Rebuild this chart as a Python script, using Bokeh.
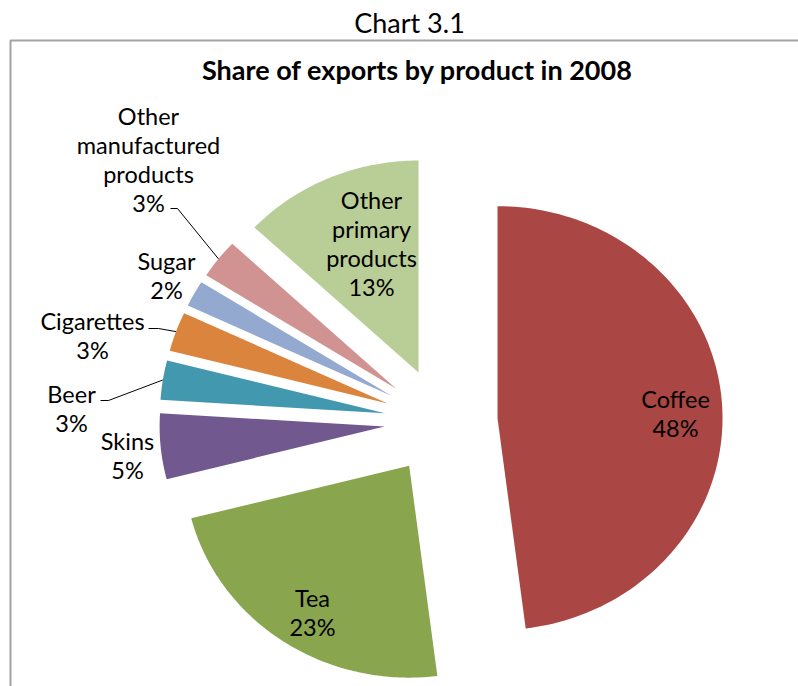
import numpy as np
from bokeh.plotting import figure
from bokeh.models import Range1d, ColumnDataSource
from bokeh.core.properties import value
from bokeh.embed import file_html
from bokeh.resources import INLINE

# ---------------- data ----------------
categories = ["Coffee", "Tea", "Skins", "Beer", "Cigarettes", "Sugar",
              "Other manufactured products", "Other primary products"]
shares = [48, 23, 5, 3, 3, 2, 3, 13]
label_names = ["Coffee", "Tea", "Skins", "Beer", "Cigarettes", "Sugar",
               "Other\nmanufactured\nproducts", "Other\nprimary\nproducts"]
colors = ["#AA4643", "#89A54E", "#71588F", "#4198AF", "#DB843D",
          "#93A9CF", "#D19392", "#B9CD96"]
chart_caption = "Chart 3.1"
chart_title = "Share of exports by product in 2008"

# ---------------- layout (pixel space) ----------------
W, H = 798, 686
CX, CY = 440.5, 421.0
RX, RY = 225.0, 212.0
EXPLODE = 0.2517
FONT = "Lato"
LABEL_SIZE = 23.5
LINE_STEP = 29.3
label_at = {
    "Coffee": (675, 398), "Tea": (312, 597), "Skins": (127, 440),
    "Beer": (71, 393), "Cigarettes": (92, 320), "Sugar": (166, 260),
    "Other manufactured products": (148, 115),
    "Other primary products": (371, 199),
}
leader_elbows = {
    "Other manufactured products": [(170, 208), (177, 208)],
    "Cigarettes": [(148, 328), (158, 328)],
    "Beer": [(100, 400), (108, 400)],
}

p = figure(width=W, height=H, x_range=Range1d(0, W), y_range=Range1d(H, 0),
           output_backend="svg", toolbar_location=None, min_border=0,
           x_axis_location=None, y_axis_location=None,
           outline_line_color=None, background_fill_color="white",
           border_fill_color="white")
p.grid.visible = False

# chart-area border
p.quad(left=10, right=W + 40, top=40, bottom=H + 40, fill_color=None,
       line_color="#a3a3a3", line_width=2)

# slices
total = float(sum(shares))
cum = np.concatenate([[0.0], np.cumsum(shares)]) / total
xs, ys, mids = [], [], []
for i, s in enumerate(shares):
    a0 = np.pi / 2 - 2 * np.pi * cum[i]
    a1 = np.pi / 2 - 2 * np.pi * cum[i + 1]
    am = (a0 + a1) / 2
    ax = CX + EXPLODE * RX * np.cos(am)
    ay = CY - EXPLODE * RY * np.sin(am)
    t = np.linspace(a0, a1, 120)
    xs.append([ax] + list(ax + RX * np.cos(t)))
    ys.append([ay] + list(ay - RY * np.sin(t)))
    mids.append((ax + RX * np.cos(am), ay - RY * np.sin(am)))

p.patches(xs=xs, ys=ys, fill_color=colors, line_color=None)

# leader lines
for name, pts in leader_elbows.items():
    i = categories.index(name)
    lx = [q[0] for q in pts] + [mids[i][0]]
    ly = [q[1] for q in pts] + [mids[i][1]]
    p.line(lx, ly, line_color="black", line_width=1)

# labels
tx, ty, tt = [], [], []
for name, lab, s in zip(categories, label_names, shares):
    lines = lab.split("\n") + [f"{round(100 * s / total)}%"]
    x0, y0 = label_at[name]
    for k, ln in enumerate(lines):
        tx.append(x0)
        ty.append(y0 + k * LINE_STEP)
        tt.append(ln)
p.text(x=tx, y=ty, text=tt, text_font=value(FONT),
       text_font_size=f"{LABEL_SIZE}px", text_align="center",
       text_baseline="middle", text_color="black")

p.text(x=[409], y=[22], text=[chart_caption], text_font=value(FONT),
       text_font_size="27px", text_align="center", text_baseline="middle",
       text_color="black")
p.text(x=[417], y=[69], text=[chart_title], text_font=value(FONT),
       text_font_size="27px", text_font_style="bold", text_align="center",
       text_baseline="middle", text_color="black")

open("out.html", "w").write(file_html(p, INLINE))
